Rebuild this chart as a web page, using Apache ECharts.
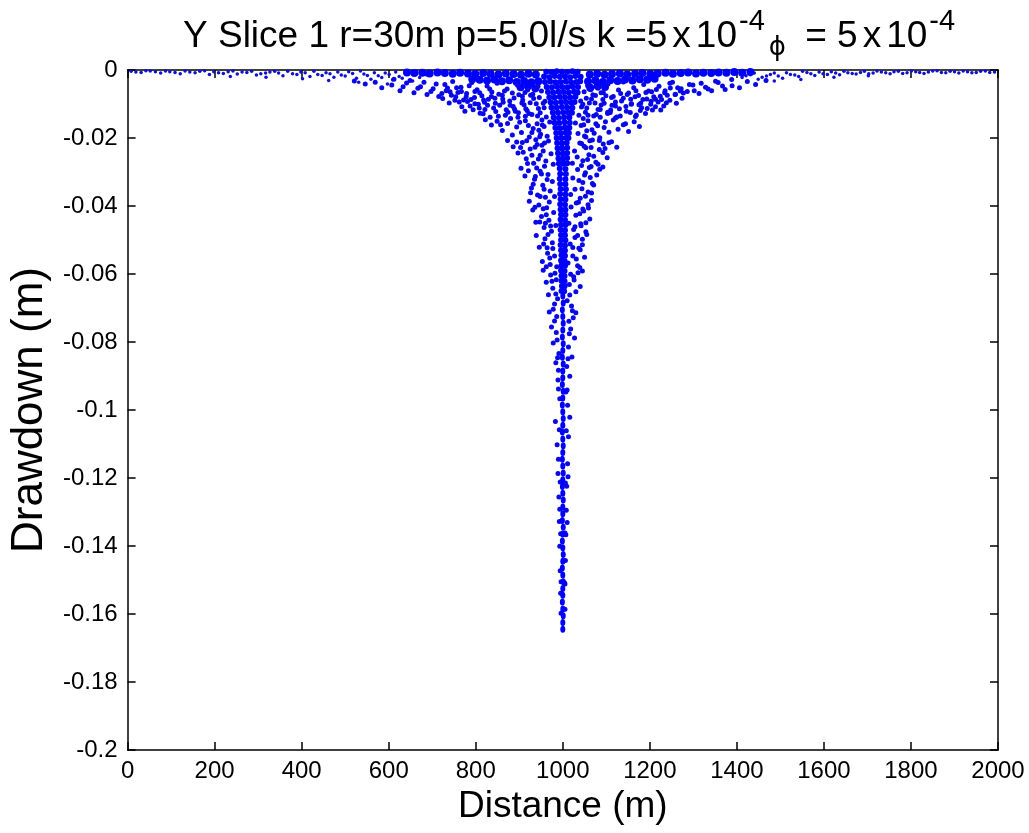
<!DOCTYPE html>
<html>
<head>
<meta charset="utf-8">
<script src="https://cdn.jsdelivr.net/npm/echarts@6/dist/echarts.min.js"></script>
<style>
    html, body { margin: 0; padding: 0; background: #fff; }
    #sliceChart { width: 1029px; height: 833px; }
</style>
</head>
<body>
<div id="sliceChart"></div>
<script>
    // [distance (m), drawdown (m)]
    const surfacePts = [
        [8,-0.0004],[31,-0.0007],[52,-0.0003],[76,-0.0009],[97,-0.0005],[121,-0.0011],[143,-0.0006],[166,-0.0004],
        [188,-0.0013],[209,-0.0008],[231,-0.0005],[252,-0.0012],[274,-0.0007],[296,-0.0015],[317,-0.0009],[338,-0.0004],
        [357,-0.0017],[379,-0.0011],[398,-0.0006],[419,-0.0019],[437,-0.0013],[456,-0.0008],[474,-0.0021],[491,-0.0015],
        [508,-0.0005],[526,-0.0024],[543,-0.0012],[559,-0.0027],[576,-0.0017],[592,-0.0009],[609,-0.0029],[624,-0.0019],
        [639,-0.0011],[655,-0.0032],[671,-0.0022],[686,-0.0014],
        [236,-0.0019],[318,-0.0021],[402,-0.0026],[462,-0.0031],[531,-0.0036],[597,-0.0041],
        [19,-0.0006],[42,-0.0002],[64,-0.0005],[87,-0.0003],[109,-0.0007],[132,-0.0003],[155,-0.0008],[177,-0.0002],
        [198,-0.0005],[220,-0.0010],[242,-0.0003],[263,-0.0006],[285,-0.0004],[306,-0.0011],[327,-0.0006],[347,-0.0009],
        [368,-0.0004],[389,-0.0013],[408,-0.0008],[428,-0.0004],[447,-0.0016],[465,-0.0011],[483,-0.0006],[500,-0.0018],
        [517,-0.0010],[535,-0.0003],[551,-0.0016],[567,-0.0008],[584,-0.0022],[601,-0.0013],[616,-0.0006],[631,-0.0024],
        [1412,-0.0022],[1431,-0.0014],[1449,-0.0027],[1468,-0.0018],[1486,-0.0009],[1505,-0.0024],[1523,-0.0013],
        [1542,-0.0019],[1561,-0.0007],[1579,-0.0016],[1598,-0.0011],[1617,-0.0005],[1636,-0.0014],[1655,-0.0008],
        [1674,-0.0012],[1693,-0.0004],[1713,-0.0009],[1732,-0.0006],[1752,-0.0011],[1771,-0.0004],[1791,-0.0008],
        [1811,-0.0005],[1830,-0.0010],[1850,-0.0003],[1870,-0.0007],[1890,-0.0004],[1910,-0.0009],[1930,-0.0005],
        [1950,-0.0007],[1971,-0.0003],[1992,-0.0006],
        [1486,-0.0032],[1547,-0.0028],[1623,-0.0021],[1702,-0.0017],
        [1421,-0.0017],[1440,-0.0009],[1458,-0.0021],[1477,-0.0013],[1495,-0.0018],[1514,-0.0008],[1533,-0.0015],
        [1551,-0.0004],[1570,-0.0011],[1589,-0.0006],[1608,-0.0013],[1627,-0.0009],[1646,-0.0004],[1665,-0.0010],
        [1684,-0.0007],[1703,-0.0011],[1722,-0.0003],[1742,-0.0008],[1761,-0.0005],[1781,-0.0010],[1801,-0.0003],
        [1820,-0.0007],[1840,-0.0006],[1860,-0.0002],[1880,-0.0008],[1900,-0.0005],[1920,-0.0003],[1940,-0.0008],
        [1960,-0.0004],[1981,-0.0007]
    ]

    const bandPts = [
        [642,-0.0007],[659,-0.0009],[677,-0.0008],[694,-0.0010],[712,-0.0007],[729,-0.0009],[747,-0.0011],[764,-0.0008],
        [782,-0.0010],[799,-0.0012],[817,-0.0009],[834,-0.0011],[852,-0.0013],[869,-0.0010],[887,-0.0012],[904,-0.0014],
        [921,-0.0011],[938,-0.0013],
        [1062,-0.0013],[1079,-0.0011],[1096,-0.0014],[1113,-0.0012],[1131,-0.0010],[1148,-0.0013],[1166,-0.0011],
        [1183,-0.0009],[1201,-0.0012],[1218,-0.0010],[1236,-0.0008],[1253,-0.0011],[1271,-0.0009],[1288,-0.0007],
        [1306,-0.0010],[1323,-0.0008],[1341,-0.0009],[1358,-0.0007],[1376,-0.0008],[1394,-0.0006],[1412,-0.0008],
        [1431,-0.0006],
        [792,-0.0027],[809,-0.0029],[826,-0.0031],[843,-0.0028],[860,-0.0033],[877,-0.0030],[894,-0.0035],[911,-0.0032],
        [928,-0.0036],[944,-0.0033],
        [1058,-0.0034],[1075,-0.0031],[1092,-0.0035],[1109,-0.0030],[1126,-0.0032],[1143,-0.0028],[1160,-0.0031],
        [1177,-0.0027],[1194,-0.0029],[1211,-0.0026],
        [903,-0.0051],[920,-0.0048],[937,-0.0054],[1063,-0.0052],[1080,-0.0047],[1097,-0.0050]
    ]

    const leftFlankPts = [
        [521,-0.0032],[546,-0.0041],[569,-0.0036],[584,-0.0052],[607,-0.0044],[626,-0.0061],[641,-0.0038],[658,-0.0067],
        [673,-0.0049],[688,-0.0072],[702,-0.0055],[715,-0.0078],[729,-0.0043],[741,-0.0064],[754,-0.0079],[766,-0.0051],
        [779,-0.0069],[791,-0.0037],[803,-0.0058],[814,-0.0076],[826,-0.0047],[837,-0.0065],[849,-0.0039],[861,-0.0074],
        [872,-0.0056],[884,-0.0068],[896,-0.0045],[907,-0.0077],[919,-0.0059],[931,-0.0071],[943,-0.0048],
        [724,-0.0084],[739,-0.0097],[752,-0.0089],[768,-0.0108],[781,-0.0093],[794,-0.0117],[806,-0.0101],[817,-0.0129],
        [829,-0.0086],[841,-0.0112],[852,-0.0136],[863,-0.0095],[874,-0.0124],[886,-0.0107],[897,-0.0139],[908,-0.0088],
        [918,-0.0119],[929,-0.0131],[939,-0.0099],[948,-0.0126],[957,-0.0111],[962,-0.0138],
        [822,-0.0146],[836,-0.0162],[849,-0.0151],[861,-0.0178],[873,-0.0157],[884,-0.0191],[894,-0.0168],[905,-0.0184],
        [914,-0.0149],[923,-0.0197],[932,-0.0172],[941,-0.0158],[949,-0.0189],[957,-0.0166],[964,-0.0195],[970,-0.0153],
        [873,-0.0207],[886,-0.0226],[897,-0.0244],[907,-0.0213],[916,-0.0261],[925,-0.0232],[933,-0.0274],[941,-0.0219],
        [948,-0.0251],[955,-0.0238],[961,-0.0268],[967,-0.0209],[973,-0.0246],[978,-0.0277],
        [904,-0.0289],[913,-0.0312],[921,-0.0296],[928,-0.0347],[935,-0.0321],[942,-0.0368],[948,-0.0298],[954,-0.0339],
        [960,-0.0374],[966,-0.0307],[971,-0.0356],[976,-0.0328],[981,-0.0372],
        [923,-0.0386],[931,-0.0412],[938,-0.0448],[945,-0.0397],[951,-0.0431],[957,-0.0463],[963,-0.0405],[968,-0.0442],
        [974,-0.0474],[979,-0.0419],[984,-0.0457],
        [939,-0.0487],[946,-0.0521],[953,-0.0563],[959,-0.0496],[965,-0.0539],[971,-0.0572],[976,-0.0508],[981,-0.0547],
        [986,-0.0579],
        [955,-0.0589],[962,-0.0624],[967,-0.0661],[972,-0.0603],[977,-0.0642],[981,-0.0688],[985,-0.0617],[988,-0.0673],
        [969,-0.0712],[974,-0.0756],[978,-0.0803],[981,-0.0738],[984,-0.0861],[987,-0.0794],[989,-0.0912],[991,-0.0834],
        [993,-0.0967],[986,-0.0725],[990,-0.0883],
        [983,-0.1034],[987,-0.1102],[989,-0.1187],[991,-0.1256],[992,-0.1328],[993,-0.1401],[994,-0.1473],[995,-0.1539],
        [996,-0.1598],[990,-0.1145],[993,-0.1292],
        [612,-0.0027],[633,-0.0049],[649,-0.0031],[667,-0.0054],[681,-0.0036],[697,-0.0063],[709,-0.0041],[722,-0.0069],
        [735,-0.0053],[747,-0.0034],[759,-0.0066],[772,-0.0088],[785,-0.0046],[797,-0.0081],[809,-0.0067],[820,-0.0095],
        [832,-0.0056],[844,-0.0083],[855,-0.0104],[866,-0.0062],[878,-0.0091],[889,-0.0115],[899,-0.0073],[911,-0.0102],
        [922,-0.0128],[933,-0.0084],[944,-0.0113],[952,-0.0147],[959,-0.0092],[936,-0.0059],[925,-0.0096],[914,-0.0136],
        [901,-0.0154],[891,-0.0121],[880,-0.0143],[868,-0.0133],[857,-0.0161],[846,-0.0122],[833,-0.0139],[821,-0.0116],
        [810,-0.0127],[798,-0.0099],[787,-0.0106],[775,-0.0121],[762,-0.0094],
        [945,-0.0177],[938,-0.0205],[952,-0.0221],[944,-0.0262],[958,-0.0283],[951,-0.0306],[964,-0.0322],[957,-0.0351],
        [969,-0.0388],[962,-0.0426],[972,-0.0459],[966,-0.0484],[977,-0.0525],[970,-0.0553],[982,-0.0598],[975,-0.0621],
        [984,-0.0659],[978,-0.0704],[985,-0.0772],[988,-0.0846],[990,-0.0938],[992,-0.1058],[994,-0.1212],[995,-0.1364],
        [996,-0.1505],[903,-0.0228],[894,-0.0212],[919,-0.0275],[929,-0.0251],[937,-0.0313],[926,-0.0361],[936,-0.0404],
        [947,-0.0447],[956,-0.0512],[962,-0.0579],
        [951,-0.0062],[946,-0.0081],[955,-0.0098],[942,-0.0135],[953,-0.0162],[947,-0.0196],[958,-0.0215],[936,-0.0227],
        [929,-0.0184],[921,-0.0163],[915,-0.0114],[906,-0.0097],[898,-0.0126],[888,-0.0082],[879,-0.0104],[870,-0.0117],
        [862,-0.0085],[853,-0.0071],[845,-0.0098],[836,-0.0078],[827,-0.0104],[818,-0.0088],[808,-0.0112],[798,-0.0063],
        [789,-0.0087],[778,-0.0079],[767,-0.0063],[756,-0.0052],[744,-0.0074],[732,-0.0061],[926,-0.0074],[913,-0.0066],
        [917,-0.0208],[909,-0.0242],[940,-0.0288],[932,-0.0336],[948,-0.0372],[955,-0.0408],[960,-0.0451],[964,-0.0523]
    ]

    const rightFlankPts = [
        [1057,-0.0046],[1069,-0.0073],[1081,-0.0054],[1093,-0.0066],[1104,-0.0041],[1116,-0.0078],[1128,-0.0059],
        [1139,-0.0035],[1151,-0.0068],[1163,-0.0052],[1174,-0.0075],[1186,-0.0043],[1197,-0.0062],[1209,-0.0079],
        [1221,-0.0048],[1234,-0.0067],[1246,-0.0039],[1259,-0.0071],[1272,-0.0055],[1286,-0.0063],[1299,-0.0044],
        [1313,-0.0069],[1328,-0.0051],[1342,-0.0061],[1357,-0.0037],[1373,-0.0057],[1389,-0.0046],[1406,-0.0052],
        [1424,-0.0034],[1443,-0.0043],[1467,-0.0031],
        [1037,-0.0133],[1043,-0.0109],[1052,-0.0124],[1061,-0.0097],[1071,-0.0135],[1081,-0.0116],[1092,-0.0087],
        [1103,-0.0128],[1113,-0.0104],[1124,-0.0138],[1135,-0.0091],[1146,-0.0121],[1158,-0.0099],[1169,-0.0132],
        [1181,-0.0111],[1193,-0.0085],[1206,-0.0118],[1219,-0.0094],[1232,-0.0106],[1246,-0.0089],[1261,-0.0098],
        [1274,-0.0083],
        [1029,-0.0156],[1035,-0.0187],[1042,-0.0163],[1050,-0.0194],[1058,-0.0149],[1067,-0.0176],[1076,-0.0158],
        [1085,-0.0199],[1095,-0.0169],[1106,-0.0183],[1116,-0.0147],[1127,-0.0174],[1139,-0.0161],[1151,-0.0181],
        [1164,-0.0152],[1176,-0.0166],
        [1022,-0.0274],[1027,-0.0238],[1033,-0.0256],[1039,-0.0215],[1046,-0.0267],[1053,-0.0229],[1060,-0.0249],
        [1068,-0.0206],[1076,-0.0271],[1084,-0.0234],[1093,-0.0218],[1102,-0.0258],[1112,-0.0211],[1124,-0.0227],
        [1018,-0.0366],[1023,-0.0318],[1028,-0.0351],[1034,-0.0293],[1040,-0.0377],[1046,-0.0331],[1052,-0.0302],
        [1058,-0.0359],[1065,-0.0284],[1071,-0.0338],[1078,-0.0309],[1085,-0.0292],[1092,-0.0285],
        [1014,-0.0451],[1019,-0.0403],[1025,-0.0469],[1030,-0.0427],[1036,-0.0389],[1042,-0.0458],[1048,-0.0415],
        [1053,-0.0476],[1058,-0.0396],[1062,-0.0438],[1066,-0.0384],
        [1012,-0.0568],[1017,-0.0512],[1023,-0.0547],[1028,-0.0493],[1034,-0.0576],[1040,-0.0529],[1045,-0.0498],
        [1050,-0.0551],[1055,-0.0484],
        [1010,-0.0679],[1015,-0.0631],[1020,-0.0694],[1025,-0.0608],[1030,-0.0652],[1035,-0.0596],[1040,-0.0637],
        [1045,-0.0591],
        [1007,-0.0947],[1009,-0.0872],[1011,-0.0986],[1013,-0.0815],[1016,-0.0901],[1018,-0.0762],[1021,-0.0844],
        [1024,-0.0729],[1027,-0.0788],[1030,-0.0714],[1014,-0.0739],
        [1005,-0.1586],[1005,-0.1512],[1006,-0.1443],[1007,-0.1367],[1008,-0.1295],[1009,-0.1224],[1011,-0.1158],
        [1013,-0.1079],[1016,-0.1021],[1010,-0.1331],[1012,-0.1196],
        [1388,-0.0028],[1367,-0.0047],[1351,-0.0033],[1334,-0.0056],[1318,-0.0039],[1302,-0.0061],[1291,-0.0043],
        [1277,-0.0068],[1264,-0.0052],[1252,-0.0036],[1240,-0.0074],[1227,-0.0087],[1215,-0.0057],[1203,-0.0092],
        [1191,-0.0066],[1179,-0.0098],[1168,-0.0061],[1156,-0.0086],[1145,-0.0107],[1133,-0.0069],[1121,-0.0094],
        [1110,-0.0118],[1099,-0.0076],[1088,-0.0103],[1077,-0.0131],[1066,-0.0085],[1055,-0.0112],[1047,-0.0143],
        [1041,-0.0091],[1064,-0.0058],[1074,-0.0097],[1086,-0.0139],[1098,-0.0152],[1109,-0.0125],[1121,-0.0141],
        [1132,-0.0135],[1144,-0.0158],[1155,-0.0125],[1167,-0.0137],[1178,-0.0119],[1190,-0.0128],[1202,-0.0101],
        [1213,-0.0108],[1225,-0.0118],[1238,-0.0096],
        [1055,-0.0179],[1062,-0.0208],[1049,-0.0224],[1057,-0.0263],[1043,-0.0281],[1050,-0.0309],[1037,-0.0325],
        [1044,-0.0349],[1031,-0.0391],[1039,-0.0423],[1028,-0.0461],[1034,-0.0487],[1023,-0.0522],[1031,-0.0556],
        [1018,-0.0601],[1026,-0.0618],[1016,-0.0662],[1022,-0.0708],[1015,-0.0776],[1012,-0.0849],[1010,-0.0941],
        [1008,-0.1061],[1006,-0.1215],[1005,-0.1362],[1004,-0.1508],[1097,-0.0231],[1106,-0.0214],[1081,-0.0277],
        [1071,-0.0254],[1063,-0.0316],[1066,-0.0362],[1059,-0.0406],[1053,-0.0449],[1045,-0.0514],[1039,-0.0581],
        [1049,-0.0064],[1054,-0.0083],[1046,-0.0101],[1058,-0.0133],[1048,-0.0161],[1053,-0.0197],[1043,-0.0216],
        [1065,-0.0228],[1072,-0.0186],[1080,-0.0164],[1086,-0.0116],[1095,-0.0098],[1103,-0.0124],[1112,-0.0081],
        [1121,-0.0106],[1130,-0.0114],[1139,-0.0083],[1148,-0.0072],[1157,-0.0101],[1166,-0.0079],[1175,-0.0102],
        [1184,-0.0087],[1194,-0.0113],[1204,-0.0064],[1213,-0.0086],[1224,-0.0077],[1235,-0.0061],[1247,-0.0053],
        [1258,-0.0072],[1270,-0.0062],[1075,-0.0075],[1088,-0.0067],[1084,-0.0207],[1092,-0.0243],[1061,-0.0287],
        [1068,-0.0334],[1052,-0.0371],[1046,-0.0409],[1041,-0.0452],[1037,-0.0524]
    ]

    const corePts = [
        [962,-0.0005],[974,-0.0006],[986,-0.0004],[998,-0.0005],[1010,-0.0006],[1022,-0.0004],[1034,-0.0005],
        [957,-0.0019],[969,-0.0021],[981,-0.0018],[993,-0.0020],[1005,-0.0019],[1017,-0.0021],[1029,-0.0018],[1041,-0.0020],
        [959,-0.0035],[971,-0.0034],[983,-0.0036],[995,-0.0035],[1007,-0.0034],[1019,-0.0036],[1031,-0.0035],[1040,-0.0033],
        [963,-0.0050],[975,-0.0051],[987,-0.0049],[999,-0.0050],[1011,-0.0051],[1023,-0.0049],[1035,-0.0050],
        [966,-0.0065],[978,-0.0066],[990,-0.0064],[1002,-0.0065],[1014,-0.0066],[1026,-0.0064],[1034,-0.0066],
        [969,-0.0080],[981,-0.0081],[993,-0.0079],[1005,-0.0080],[1017,-0.0081],[1029,-0.0079],
        [972,-0.0095],[984,-0.0096],[996,-0.0094],[1008,-0.0095],[1020,-0.0096],[1027,-0.0094],
        [974,-0.0110],[986,-0.0111],[998,-0.0109],[1010,-0.0110],[1022,-0.0111],
        [977,-0.0125],[989,-0.0126],[1001,-0.0124],[1013,-0.0125],[1021,-0.0126],
        [979,-0.0140],[991,-0.0141],[1003,-0.0139],[1015,-0.0140],
        [981,-0.0155],[992,-0.0156],[1004,-0.0154],[1016,-0.0155],
        [983,-0.0170],[994,-0.0171],[1005,-0.0169],[1015,-0.0170],
        [985,-0.0185],[996,-0.0186],[1007,-0.0184],[1014,-0.0185],
        [986,-0.0200],[997,-0.0201],[1008,-0.0199],[1013,-0.0200],
        [987,-0.0215],[998,-0.0216],[1009,-0.0214],
        [988,-0.0230],[999,-0.0231],[1010,-0.0229],
        [989,-0.0245],[1000,-0.0246],[1010,-0.0244],
        [990,-0.0260],[1000,-0.0261],[1010,-0.0259],
        [991,-0.0275],[1001,-0.0276],[1010,-0.0274],
        [993,-0.0290],[1006,-0.0291],[994,-0.0305],[1007,-0.0306],[993,-0.0320],[1006,-0.0321],
        [994,-0.0335],[1006,-0.0336],[995,-0.0350],[1007,-0.0351],[994,-0.0365],[1006,-0.0366],
        [995,-0.0380],[1006,-0.0381],[994,-0.0395],[1005,-0.0396],[995,-0.0410],[1006,-0.0411],
        [996,-0.0425],[1006,-0.0426],[995,-0.0440],[1005,-0.0441],[996,-0.0455],[1006,-0.0456],
        [995,-0.0470],[1005,-0.0471],[996,-0.0485],[1005,-0.0486],[996,-0.0500],[1006,-0.0501],
        [995,-0.0515],[1005,-0.0516],[996,-0.0530],[1005,-0.0531],[997,-0.0545],[1005,-0.0546],
        [996,-0.0560],[1004,-0.0561],[997,-0.0575],[1005,-0.0576],[996,-0.0590],[1004,-0.0591],
        [997,-0.0605],[1004,-0.0606],[997,-0.0620],[1004,-0.0621],[998,-0.0635],[1004,-0.0636],
        [997,-0.0650],[1003,-0.0651]
    ]

    const stemPts = [
        [1000,-0.0665],[1001,-0.0685],[999,-0.0705],[1000,-0.0725],[1001,-0.0745],[1000,-0.0765],[999,-0.0785],
        [1001,-0.0805],[1000,-0.0825],[999,-0.0845],[1001,-0.0865],[1000,-0.0885],[1000,-0.0905],[999,-0.0925],
        [1001,-0.0945],[1000,-0.0965],[999,-0.0985],[1000,-0.1005],[1001,-0.1025],[1000,-0.1045],[999,-0.1065],
        [1000,-0.1085],[1001,-0.1105],[1000,-0.1125],[999,-0.1145],[1000,-0.1165],[1001,-0.1185],[1000,-0.1205],
        [999,-0.1225],[1000,-0.1245],[1001,-0.1265],[1000,-0.1285],[1000,-0.1305],[999,-0.1325],[1001,-0.1345],
        [1000,-0.1365],[999,-0.1385],[1000,-0.1405],[1001,-0.1425],[1000,-0.1445],[999,-0.1465],[1000,-0.1485],
        [1001,-0.1505],[1000,-0.1525],[1000,-0.1545],[999,-0.1565],[1000,-0.1585],[1001,-0.1605],[1000,-0.1625],
        [1000,-0.1645]
    ]

    const font = 'Liberation Sans, Arial, Helvetica, sans-serif'
    const blue = '#0000ff'

    // box axes: ticks point inward on all four sides
    function boxAxis (pos, extra) {
        return Object.assign({
            type: 'value',
            position: pos,
            axisLine: { show: true, onZero: false, lineStyle: { color: '#000', width: 1.5 } },
            axisTick: { show: true, inside: true, length: 8, lineStyle: { color: '#000', width: 1.5 } },
            axisLabel: { show: false },
            splitLine: { show: false }
        }, extra)
    }

    function dots (data, size, color) {
        return {
            type: 'scatter',
            data: data,
            symbol: 'circle',
            symbolSize: size,
            silent: true,
            itemStyle: { color: color || blue, opacity: 1 }
        }
    }

    let option = {
        animation: false,
        backgroundColor: '#fff',
        title: {
            text: 'Y Slice 1 r=30m p=5.0l/s k =5{x|x}10{sup|-4}{phi|ϕ} = 5{x|x}10{sup|-4}',
            left: 183,
            top: 7,
            padding: 0,
            textStyle: {
                fontFamily: font,
                fontSize: 37,
                fontWeight: 'normal',
                color: '#000',
                lineHeight: 60,
                rich: {
                    x: { fontFamily: font, fontSize: 37, lineHeight: 60, color: '#000', padding: [0, 5, 0, 5] },
                    sup: { fontFamily: font, fontSize: 29, lineHeight: 26, verticalAlign: 'top', color: '#000', padding: [0, 0, 0, 2] },
                    phi: { fontFamily: 'DejaVu Sans, ' + font, fontSize: 26, lineHeight: 30, verticalAlign: 'bottom', color: '#000', padding: [0, 9, 6, 4] }
                }
            }
        },
        grid: { left: 127, right: 31, top: 70, bottom: 83, containLabel: false },
        xAxis: [
            boxAxis('bottom', {
                min: 0, max: 2000, interval: 200,
                axisLabel: { show: true, color: '#000', fontFamily: font, fontSize: 24, margin: 9, formatter: v => String(v) },
                name: 'Distance (m)', nameLocation: 'middle', nameGap: 30,
                nameTextStyle: { color: '#000', fontFamily: font, fontSize: 37 }
            }),
            boxAxis('top', { min: 0, max: 2000, interval: 200 })
        ],
        yAxis: [
            boxAxis('left', {
                min: -0.2, max: 0, interval: 0.02,
                axisLabel: { show: true, color: '#000', fontFamily: font, fontSize: 24, margin: 10 },
                name: 'Drawdown (m)', nameLocation: 'middle', nameGap: 74,
                nameTextStyle: { color: '#000', fontFamily: font, fontSize: 44 }
            }),
            boxAxis('right', { min: -0.2, max: 0, interval: 0.02 })
        ],
        series: [
            dots(surfacePts, 3.5, '#1010d0'),
            dots(bandPts, 8),
            dots(leftFlankPts, 5, '#0808e8'),
            dots(rightFlankPts, 5, '#0808e8'),
            dots(corePts, 6),
            dots(stemPts, [5, 7])
        ]
    }

    let myChart = echarts.init(document.getElementById('sliceChart'))
    myChart.setOption(option)
</script>
</body>
</html>
